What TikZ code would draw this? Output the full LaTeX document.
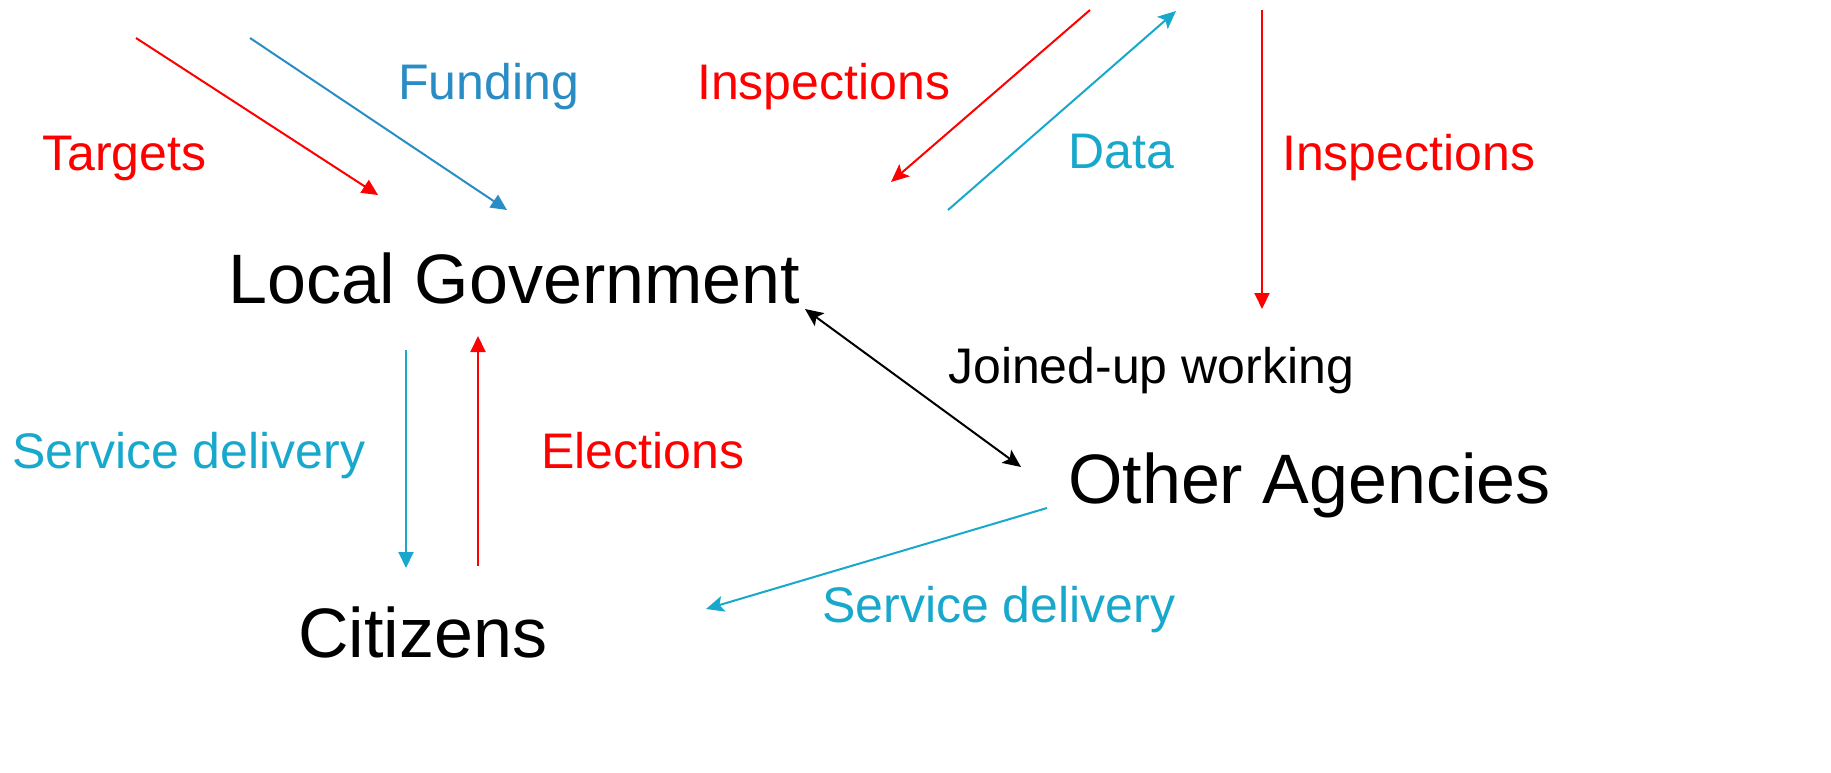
\documentclass[tikz,border=0pt]{standalone}
\usepackage{fontspec}
\setmainfont{Liberation Sans}
\usetikzlibrary{arrows.meta}
\definecolor{cred}{HTML}{FF0000}
\definecolor{cblue}{HTML}{2A8CC4}
\definecolor{ccyan}{HTML}{17A8CC}
\tikzset{
  big/.style={anchor=base west, inner sep=0pt, font=\fontsize{70}{84}\selectfont},
  lbl/.style={anchor=base west, inner sep=0pt, font=\fontsize{50}{60}\selectfont},
  conn/.style={line width=2pt},
  tri/.style={-{Triangle[length=16pt,width=15pt]}},
  stl/.style={-{Stealth[length=18pt,width=16pt,inset=4pt]}},
  dstl/.style={{Stealth[length=18pt,width=16pt,inset=4pt]}-{Stealth[length=18pt,width=16pt,inset=4pt]}},
}
\begin{document}
\begin{tikzpicture}[x=1pt,y=-1pt]
\useasboundingbox (0,0) rectangle (1831,773);
% main nodes
\node[big] (lg) at (228,303) {Local Government};
\node[big] (oa) at (1068,503) {Other Agencies};
\node[big] (cit) at (298,657) {Citizens};
% labels
\node[lbl, text=cred] (ltargets) at (42,170) {Targets};
\node[lbl, text=cblue] (lfunding) at (398,100) {Funding};
\node[lbl, text=cred] (linsp1) at (697,100) {Inspections};
\node[lbl, text=ccyan] (ldata) at (1068,168) {Data};
\node[lbl, text=cred] (linsp2) at (1282,170) {Inspections};
\node[lbl] (ljoin) at (948,383) {Joined-up working};
\node[lbl, text=ccyan] (lsd1) at (12,468) {Service delivery};
\node[lbl, text=cred] (lelec) at (541,468) {Elections};
\node[lbl, text=ccyan] (lsd2) at (822,622) {Service delivery};
% connector ends
\coordinate (t1) at (136,38);  \coordinate (t2) at (378,195);
\coordinate (f1) at (250,38);  \coordinate (f2) at (507,210);
\coordinate (i1) at (1090,10); \coordinate (i2) at (891,182);
\coordinate (d1) at (948,210); \coordinate (d2) at (1176,11);
\coordinate (j1) at (1262,10); \coordinate (j2) at (1262,309);
\coordinate (k1) at (805,309); \coordinate (k2) at (1021,467);
\coordinate (s1) at (406,350); \coordinate (s2) at (406,568);
\coordinate (e1) at (478,566); \coordinate (e2) at (478,336);
\coordinate (g1) at (1047,508); \coordinate (g2) at (706,609);
% connectors
\draw[conn, cred, tri] (t1) -- (t2);
\draw[conn, cblue, tri] (f1) -- (f2);
\draw[conn, cred, stl] (i1) -- (i2);
\draw[conn, ccyan, stl] (d1) -- (d2);
\draw[conn, cred, tri] (j1) -- (j2);
\draw[conn, black, dstl] (k1) -- (k2);
\draw[conn, ccyan, tri] (s1) -- (s2);
\draw[conn, cred, tri] (e1) -- (e2);
\draw[conn, ccyan, stl] (g1) -- (g2);
\end{tikzpicture}
\end{document}
